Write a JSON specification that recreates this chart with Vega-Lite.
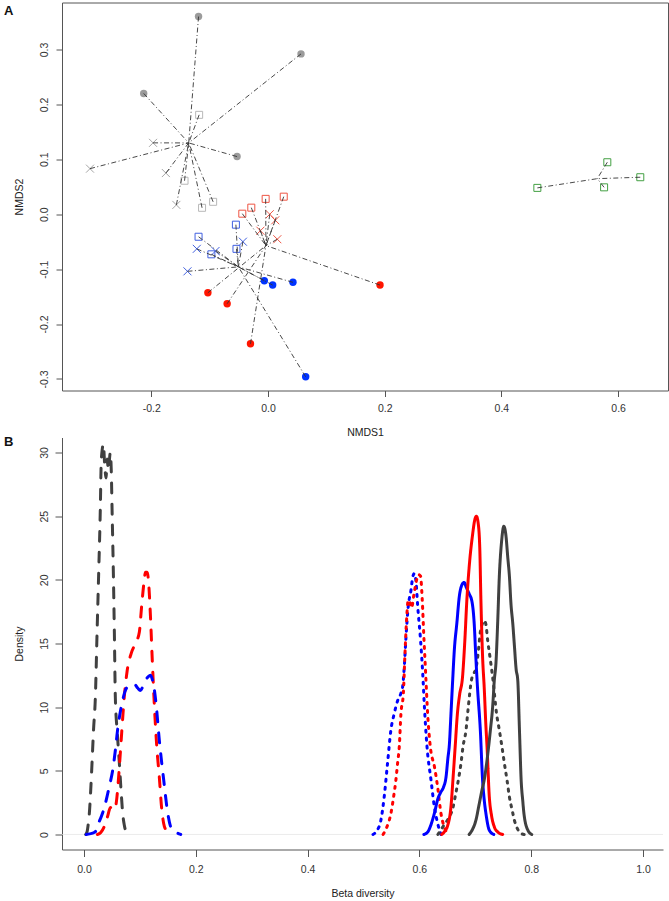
{
  "$schema": "https://vega.github.io/schema/vega-lite/v6.json",
  "background": "white",
  "padding": {"left": 3, "top": 1.5, "right": 0, "bottom": 0},
  "autosize": {"type": "pad"},
  "bounds": "flush",
  "spacing": 47,
  "resolve": {"scale": {"color": "independent", "strokeDash": "independent"}},
  "config": {
    "font": "Liberation Sans",
    "view": {"stroke": null},
    "axis": {
      "grid": false,
      "labelFont": "Liberation Sans",
      "labelFontSize": 10.5,
      "labelColor": "#333333",
      "titleFont": "Liberation Sans",
      "titleFontSize": 10.5,
      "titleFontWeight": "normal",
      "titleColor": "#222222",
      "tickColor": "#555555",
      "domainColor": "#555555",
      "labelFlush": false,
      "labelOverlap": false
    }
  },
  "datasets": {
    "nmds": [
      {"grp": "gray", "kind": "gray_circle", "pch": "circle", "x": -0.119, "y": 0.360},
      {"grp": "gray", "kind": "gray_circle", "pch": "circle", "x": 0.0566, "y": 0.292},
      {"grp": "gray", "kind": "gray_circle", "pch": "circle", "x": -0.213, "y": 0.220},
      {"grp": "gray", "kind": "gray_circle", "pch": "circle", "x": -0.053, "y": 0.105},
      {"grp": "gray", "kind": "gray_square", "pch": "square", "x": -0.118, "y": 0.181},
      {"grp": "gray", "kind": "gray_square", "pch": "square", "x": -0.143, "y": 0.061},
      {"grp": "gray", "kind": "gray_square", "pch": "square", "x": -0.113, "y": 0.0117},
      {"grp": "gray", "kind": "gray_square", "pch": "square", "x": -0.094, "y": 0.0226},
      {"grp": "gray", "kind": "gray_cross", "pch": "cross", "x": -0.197, "y": 0.130},
      {"grp": "gray", "kind": "gray_cross", "pch": "cross", "x": -0.305, "y": 0.083},
      {"grp": "gray", "kind": "gray_cross", "pch": "cross", "x": -0.175, "y": 0.075},
      {"grp": "gray", "kind": "gray_cross", "pch": "cross", "x": -0.157, "y": 0.017},
      {"grp": "red", "kind": "red_circle", "pch": "circle", "x": -0.103, "y": -0.143},
      {"grp": "red", "kind": "red_circle", "pch": "circle", "x": -0.070, "y": -0.163},
      {"grp": "red", "kind": "red_circle", "pch": "circle", "x": -0.030, "y": -0.236},
      {"grp": "red", "kind": "red_circle", "pch": "circle", "x": 0.192, "y": -0.129},
      {"grp": "red", "kind": "red_square", "pch": "square", "x": -0.044, "y": 0.001},
      {"grp": "red", "kind": "red_square", "pch": "square", "x": -0.0286, "y": 0.012},
      {"grp": "red", "kind": "red_square", "pch": "square", "x": -0.004, "y": 0.028},
      {"grp": "red", "kind": "red_square", "pch": "square", "x": 0.027, "y": 0.032},
      {"grp": "red", "kind": "red_cross", "pch": "cross", "x": -0.013, "y": -0.030},
      {"grp": "red", "kind": "red_cross", "pch": "cross", "x": 0.003, "y": 0.000},
      {"grp": "red", "kind": "red_cross", "pch": "cross", "x": 0.0125, "y": -0.011},
      {"grp": "red", "kind": "red_cross", "pch": "cross", "x": 0.016, "y": -0.0455},
      {"grp": "blue", "kind": "blue_circle", "pch": "circle", "x": -0.0063, "y": -0.121},
      {"grp": "blue", "kind": "blue_circle", "pch": "circle", "x": 0.008, "y": -0.129},
      {"grp": "blue", "kind": "blue_circle", "pch": "circle", "x": 0.0428, "y": -0.124},
      {"grp": "blue", "kind": "blue_circle", "pch": "circle", "x": 0.0646, "y": -0.296},
      {"grp": "blue", "kind": "blue_square", "pch": "square", "x": -0.055, "y": -0.019},
      {"grp": "blue", "kind": "blue_square", "pch": "square", "x": -0.119, "y": -0.041},
      {"grp": "blue", "kind": "blue_square", "pch": "square", "x": -0.097, "y": -0.073},
      {"grp": "blue", "kind": "blue_square", "pch": "square", "x": -0.054, "y": -0.063},
      {"grp": "blue", "kind": "blue_cross", "pch": "cross", "x": -0.122, "y": -0.063},
      {"grp": "blue", "kind": "blue_cross", "pch": "cross", "x": -0.090, "y": -0.067},
      {"grp": "blue", "kind": "blue_cross", "pch": "cross", "x": -0.043, "y": -0.050},
      {"grp": "blue", "kind": "blue_cross", "pch": "cross", "x": -0.138, "y": -0.104},
      {"grp": "green", "kind": "green_square", "pch": "square", "x": 0.4616, "y": 0.048},
      {"grp": "green", "kind": "green_square", "pch": "square", "x": 0.5815, "y": 0.0947},
      {"grp": "green", "kind": "green_square", "pch": "square", "x": 0.576, "y": 0.049},
      {"grp": "green", "kind": "green_square", "pch": "square", "x": 0.638, "y": 0.0674}
    ],
    "dens": [
      {"curve": "g_dash", "col": "gray", "lty": "dashed", "x": 0.003, "y": 0},
      {"curve": "g_dash", "col": "gray", "lty": "dashed", "x": 0.0054, "y": 0.2},
      {"curve": "g_dash", "col": "gray", "lty": "dashed", "x": 0.0075, "y": 0.8},
      {"curve": "g_dash", "col": "gray", "lty": "dashed", "x": 0.0095, "y": 1.65},
      {"curve": "g_dash", "col": "gray", "lty": "dashed", "x": 0.012, "y": 3.5},
      {"curve": "g_dash", "col": "gray", "lty": "dashed", "x": 0.0143, "y": 5.6},
      {"curve": "g_dash", "col": "gray", "lty": "dashed", "x": 0.017, "y": 8.2},
      {"curve": "g_dash", "col": "gray", "lty": "dashed", "x": 0.0203, "y": 10.8},
      {"curve": "g_dash", "col": "gray", "lty": "dashed", "x": 0.0233, "y": 15.8},
      {"curve": "g_dash", "col": "gray", "lty": "dashed", "x": 0.0262, "y": 20.5},
      {"curve": "g_dash", "col": "gray", "lty": "dashed", "x": 0.0292, "y": 25.7},
      {"curve": "g_dash", "col": "gray", "lty": "dashed", "x": 0.0306, "y": 29.0},
      {"curve": "g_dash", "col": "gray", "lty": "dashed", "x": 0.0325, "y": 30.2},
      {"curve": "g_dash", "col": "gray", "lty": "dashed", "x": 0.0346, "y": 30.66},
      {"curve": "g_dash", "col": "gray", "lty": "dashed", "x": 0.037, "y": 29.0},
      {"curve": "g_dash", "col": "gray", "lty": "dashed", "x": 0.0394, "y": 28.0},
      {"curve": "g_dash", "col": "gray", "lty": "dashed", "x": 0.0415, "y": 29.5},
      {"curve": "g_dash", "col": "gray", "lty": "dashed", "x": 0.0435, "y": 28.6},
      {"curve": "g_dash", "col": "gray", "lty": "dashed", "x": 0.047, "y": 29.98},
      {"curve": "g_dash", "col": "gray", "lty": "dashed", "x": 0.0488, "y": 28.5},
      {"curve": "g_dash", "col": "gray", "lty": "dashed", "x": 0.0501, "y": 25.7},
      {"curve": "g_dash", "col": "gray", "lty": "dashed", "x": 0.0525, "y": 20.5},
      {"curve": "g_dash", "col": "gray", "lty": "dashed", "x": 0.0543, "y": 15.8},
      {"curve": "g_dash", "col": "gray", "lty": "dashed", "x": 0.056, "y": 10.8},
      {"curve": "g_dash", "col": "gray", "lty": "dashed", "x": 0.0595, "y": 8.0},
      {"curve": "g_dash", "col": "gray", "lty": "dashed", "x": 0.0632, "y": 5.6},
      {"curve": "g_dash", "col": "gray", "lty": "dashed", "x": 0.0665, "y": 3.3},
      {"curve": "g_dash", "col": "gray", "lty": "dashed", "x": 0.0692, "y": 1.65},
      {"curve": "g_dash", "col": "gray", "lty": "dashed", "x": 0.0722, "y": 0.7},
      {"curve": "g_dash", "col": "gray", "lty": "dashed", "x": 0.0751, "y": 0.2},
      {"curve": "g_dash", "col": "gray", "lty": "dashed", "x": 0.078, "y": 0},
      {"curve": "r_dash", "col": "red", "lty": "dashed", "x": 0.024, "y": 0},
      {"curve": "r_dash", "col": "red", "lty": "dashed", "x": 0.030, "y": 0.15},
      {"curve": "r_dash", "col": "red", "lty": "dashed", "x": 0.036, "y": 0.6},
      {"curve": "r_dash", "col": "red", "lty": "dashed", "x": 0.042, "y": 1.4},
      {"curve": "r_dash", "col": "red", "lty": "dashed", "x": 0.047, "y": 2.1},
      {"curve": "r_dash", "col": "red", "lty": "dashed", "x": 0.0513, "y": 2.17},
      {"curve": "r_dash", "col": "red", "lty": "dashed", "x": 0.055, "y": 2.0},
      {"curve": "r_dash", "col": "red", "lty": "dashed", "x": 0.058, "y": 2.6},
      {"curve": "r_dash", "col": "red", "lty": "dashed", "x": 0.061, "y": 4.0},
      {"curve": "r_dash", "col": "red", "lty": "dashed", "x": 0.064, "y": 5.8},
      {"curve": "r_dash", "col": "red", "lty": "dashed", "x": 0.0674, "y": 8.0},
      {"curve": "r_dash", "col": "red", "lty": "dashed", "x": 0.072, "y": 10.8},
      {"curve": "r_dash", "col": "red", "lty": "dashed", "x": 0.077, "y": 12.8},
      {"curve": "r_dash", "col": "red", "lty": "dashed", "x": 0.085, "y": 14.3},
      {"curve": "r_dash", "col": "red", "lty": "dashed", "x": 0.093, "y": 15.1},
      {"curve": "r_dash", "col": "red", "lty": "dashed", "x": 0.099, "y": 15.9},
      {"curve": "r_dash", "col": "red", "lty": "dashed", "x": 0.103, "y": 17.9},
      {"curve": "r_dash", "col": "red", "lty": "dashed", "x": 0.107, "y": 19.7},
      {"curve": "r_dash", "col": "red", "lty": "dashed", "x": 0.110, "y": 20.6},
      {"curve": "r_dash", "col": "red", "lty": "dashed", "x": 0.113, "y": 20.6},
      {"curve": "r_dash", "col": "red", "lty": "dashed", "x": 0.116, "y": 19.5},
      {"curve": "r_dash", "col": "red", "lty": "dashed", "x": 0.119, "y": 17.0},
      {"curve": "r_dash", "col": "red", "lty": "dashed", "x": 0.122, "y": 13.8},
      {"curve": "r_dash", "col": "red", "lty": "dashed", "x": 0.126, "y": 10.0},
      {"curve": "r_dash", "col": "red", "lty": "dashed", "x": 0.130, "y": 7.0},
      {"curve": "r_dash", "col": "red", "lty": "dashed", "x": 0.1347, "y": 4.5},
      {"curve": "r_dash", "col": "red", "lty": "dashed", "x": 0.139, "y": 2.0},
      {"curve": "r_dash", "col": "red", "lty": "dashed", "x": 0.1425, "y": 0.86},
      {"curve": "r_dash", "col": "red", "lty": "dashed", "x": 0.147, "y": 0.3},
      {"curve": "r_dash", "col": "red", "lty": "dashed", "x": 0.153, "y": 0},
      {"curve": "b_dash", "col": "blue", "lty": "dashed", "x": 0.004, "y": 0},
      {"curve": "b_dash", "col": "blue", "lty": "dashed", "x": 0.010, "y": 0.05},
      {"curve": "b_dash", "col": "blue", "lty": "dashed", "x": 0.018, "y": 0.15},
      {"curve": "b_dash", "col": "blue", "lty": "dashed", "x": 0.0215, "y": 0.3},
      {"curve": "b_dash", "col": "blue", "lty": "dashed", "x": 0.026, "y": 0.9},
      {"curve": "b_dash", "col": "blue", "lty": "dashed", "x": 0.030, "y": 1.3},
      {"curve": "b_dash", "col": "blue", "lty": "dashed", "x": 0.0334, "y": 1.7},
      {"curve": "b_dash", "col": "blue", "lty": "dashed", "x": 0.038, "y": 2.4},
      {"curve": "b_dash", "col": "blue", "lty": "dashed", "x": 0.0423, "y": 3.2},
      {"curve": "b_dash", "col": "blue", "lty": "dashed", "x": 0.047, "y": 4.1},
      {"curve": "b_dash", "col": "blue", "lty": "dashed", "x": 0.0513, "y": 5.05},
      {"curve": "b_dash", "col": "blue", "lty": "dashed", "x": 0.056, "y": 6.6},
      {"curve": "b_dash", "col": "blue", "lty": "dashed", "x": 0.060, "y": 8.2},
      {"curve": "b_dash", "col": "blue", "lty": "dashed", "x": 0.064, "y": 9.4},
      {"curve": "b_dash", "col": "blue", "lty": "dashed", "x": 0.069, "y": 10.5},
      {"curve": "b_dash", "col": "blue", "lty": "dashed", "x": 0.073, "y": 11.2},
      {"curve": "b_dash", "col": "blue", "lty": "dashed", "x": 0.078, "y": 11.6},
      {"curve": "b_dash", "col": "blue", "lty": "dashed", "x": 0.084, "y": 11.7},
      {"curve": "b_dash", "col": "blue", "lty": "dashed", "x": 0.090, "y": 11.8},
      {"curve": "b_dash", "col": "blue", "lty": "dashed", "x": 0.096, "y": 11.5},
      {"curve": "b_dash", "col": "blue", "lty": "dashed", "x": 0.1008, "y": 11.3},
      {"curve": "b_dash", "col": "blue", "lty": "dashed", "x": 0.105, "y": 11.6},
      {"curve": "b_dash", "col": "blue", "lty": "dashed", "x": 0.110, "y": 12.1},
      {"curve": "b_dash", "col": "blue", "lty": "dashed", "x": 0.115, "y": 12.4},
      {"curve": "b_dash", "col": "blue", "lty": "dashed", "x": 0.119, "y": 12.5},
      {"curve": "b_dash", "col": "blue", "lty": "dashed", "x": 0.122, "y": 12.2},
      {"curve": "b_dash", "col": "blue", "lty": "dashed", "x": 0.125, "y": 11.6},
      {"curve": "b_dash", "col": "blue", "lty": "dashed", "x": 0.1288, "y": 10.3},
      {"curve": "b_dash", "col": "blue", "lty": "dashed", "x": 0.1347, "y": 7.4},
      {"curve": "b_dash", "col": "blue", "lty": "dashed", "x": 0.1425, "y": 4.3},
      {"curve": "b_dash", "col": "blue", "lty": "dashed", "x": 0.1497, "y": 1.7},
      {"curve": "b_dash", "col": "blue", "lty": "dashed", "x": 0.155, "y": 0.6},
      {"curve": "b_dash", "col": "blue", "lty": "dashed", "x": 0.1586, "y": 0.34},
      {"curve": "b_dash", "col": "blue", "lty": "dashed", "x": 0.1676, "y": 0.1},
      {"curve": "b_dash", "col": "blue", "lty": "dashed", "x": 0.173, "y": 0},
      {"curve": "b_dot", "col": "blue", "lty": "dotted", "x": 0.517, "y": 0},
      {"curve": "b_dot", "col": "blue", "lty": "dotted", "x": 0.524, "y": 0.3},
      {"curve": "b_dot", "col": "blue", "lty": "dotted", "x": 0.531, "y": 1.1},
      {"curve": "b_dot", "col": "blue", "lty": "dotted", "x": 0.537, "y": 2.95},
      {"curve": "b_dot", "col": "blue", "lty": "dotted", "x": 0.543, "y": 5.6},
      {"curve": "b_dot", "col": "blue", "lty": "dotted", "x": 0.549, "y": 8.2},
      {"curve": "b_dot", "col": "blue", "lty": "dotted", "x": 0.555, "y": 9.5},
      {"curve": "b_dot", "col": "blue", "lty": "dotted", "x": 0.561, "y": 10.5},
      {"curve": "b_dot", "col": "blue", "lty": "dotted", "x": 0.567, "y": 11.1},
      {"curve": "b_dot", "col": "blue", "lty": "dotted", "x": 0.570, "y": 11.6},
      {"curve": "b_dot", "col": "blue", "lty": "dotted", "x": 0.573, "y": 13.2},
      {"curve": "b_dot", "col": "blue", "lty": "dotted", "x": 0.576, "y": 15.5},
      {"curve": "b_dot", "col": "blue", "lty": "dotted", "x": 0.580, "y": 17.9},
      {"curve": "b_dot", "col": "blue", "lty": "dotted", "x": 0.585, "y": 19.2},
      {"curve": "b_dot", "col": "blue", "lty": "dotted", "x": 0.588, "y": 20.2},
      {"curve": "b_dot", "col": "blue", "lty": "dotted", "x": 0.591, "y": 20.5},
      {"curve": "b_dot", "col": "blue", "lty": "dotted", "x": 0.594, "y": 19.8},
      {"curve": "b_dot", "col": "blue", "lty": "dotted", "x": 0.597, "y": 17.9},
      {"curve": "b_dot", "col": "blue", "lty": "dotted", "x": 0.602, "y": 15.3},
      {"curve": "b_dot", "col": "blue", "lty": "dotted", "x": 0.606, "y": 12.6},
      {"curve": "b_dot", "col": "blue", "lty": "dotted", "x": 0.609, "y": 10.0},
      {"curve": "b_dot", "col": "blue", "lty": "dotted", "x": 0.6136, "y": 6.9},
      {"curve": "b_dot", "col": "blue", "lty": "dotted", "x": 0.6207, "y": 4.3},
      {"curve": "b_dot", "col": "blue", "lty": "dotted", "x": 0.6267, "y": 2.2},
      {"curve": "b_dot", "col": "blue", "lty": "dotted", "x": 0.6327, "y": 0.86},
      {"curve": "b_dot", "col": "blue", "lty": "dotted", "x": 0.6386, "y": 0},
      {"curve": "r_dot", "col": "red", "lty": "dotted", "x": 0.535, "y": 0},
      {"curve": "r_dot", "col": "red", "lty": "dotted", "x": 0.541, "y": 0.5},
      {"curve": "r_dot", "col": "red", "lty": "dotted", "x": 0.549, "y": 1.65},
      {"curve": "r_dot", "col": "red", "lty": "dotted", "x": 0.554, "y": 3.0},
      {"curve": "r_dot", "col": "red", "lty": "dotted", "x": 0.558, "y": 4.3},
      {"curve": "r_dot", "col": "red", "lty": "dotted", "x": 0.561, "y": 5.6},
      {"curve": "r_dot", "col": "red", "lty": "dotted", "x": 0.564, "y": 6.9},
      {"curve": "r_dot", "col": "red", "lty": "dotted", "x": 0.567, "y": 9.5},
      {"curve": "r_dot", "col": "red", "lty": "dotted", "x": 0.5713, "y": 11.1},
      {"curve": "r_dot", "col": "red", "lty": "dotted", "x": 0.574, "y": 14.0},
      {"curve": "r_dot", "col": "red", "lty": "dotted", "x": 0.577, "y": 16.8},
      {"curve": "r_dot", "col": "red", "lty": "dotted", "x": 0.580, "y": 18.4},
      {"curve": "r_dot", "col": "red", "lty": "dotted", "x": 0.583, "y": 18.2},
      {"curve": "r_dot", "col": "red", "lty": "dotted", "x": 0.586, "y": 17.8},
      {"curve": "r_dot", "col": "red", "lty": "dotted", "x": 0.590, "y": 18.8},
      {"curve": "r_dot", "col": "red", "lty": "dotted", "x": 0.595, "y": 20.0},
      {"curve": "r_dot", "col": "red", "lty": "dotted", "x": 0.599, "y": 20.4},
      {"curve": "r_dot", "col": "red", "lty": "dotted", "x": 0.602, "y": 20.3},
      {"curve": "r_dot", "col": "red", "lty": "dotted", "x": 0.605, "y": 18.5},
      {"curve": "r_dot", "col": "red", "lty": "dotted", "x": 0.608, "y": 15.5},
      {"curve": "r_dot", "col": "red", "lty": "dotted", "x": 0.611, "y": 12.8},
      {"curve": "r_dot", "col": "red", "lty": "dotted", "x": 0.6147, "y": 9.5},
      {"curve": "r_dot", "col": "red", "lty": "dotted", "x": 0.6195, "y": 6.9},
      {"curve": "r_dot", "col": "red", "lty": "dotted", "x": 0.627, "y": 5.3},
      {"curve": "r_dot", "col": "red", "lty": "dotted", "x": 0.6327, "y": 3.7},
      {"curve": "r_dot", "col": "red", "lty": "dotted", "x": 0.6386, "y": 1.65},
      {"curve": "r_dot", "col": "red", "lty": "dotted", "x": 0.6446, "y": 0.57},
      {"curve": "r_dot", "col": "red", "lty": "dotted", "x": 0.6535, "y": 0},
      {"curve": "g_dot", "col": "gray", "lty": "dotted", "x": 0.633, "y": 0},
      {"curve": "g_dot", "col": "gray", "lty": "dotted", "x": 0.642, "y": 0.6},
      {"curve": "g_dot", "col": "gray", "lty": "dotted", "x": 0.6535, "y": 1.4},
      {"curve": "g_dot", "col": "gray", "lty": "dotted", "x": 0.6594, "y": 2.0},
      {"curve": "g_dot", "col": "gray", "lty": "dotted", "x": 0.665, "y": 3.2},
      {"curve": "g_dot", "col": "gray", "lty": "dotted", "x": 0.6744, "y": 5.6},
      {"curve": "g_dot", "col": "gray", "lty": "dotted", "x": 0.678, "y": 6.9},
      {"curve": "g_dot", "col": "gray", "lty": "dotted", "x": 0.6834, "y": 8.2},
      {"curve": "g_dot", "col": "gray", "lty": "dotted", "x": 0.687, "y": 9.8},
      {"curve": "g_dot", "col": "gray", "lty": "dotted", "x": 0.693, "y": 12.1},
      {"curve": "g_dot", "col": "gray", "lty": "dotted", "x": 0.698, "y": 12.7},
      {"curve": "g_dot", "col": "gray", "lty": "dotted", "x": 0.701, "y": 13.0},
      {"curve": "g_dot", "col": "gray", "lty": "dotted", "x": 0.705, "y": 14.2},
      {"curve": "g_dot", "col": "gray", "lty": "dotted", "x": 0.709, "y": 15.9},
      {"curve": "g_dot", "col": "gray", "lty": "dotted", "x": 0.713, "y": 16.6},
      {"curve": "g_dot", "col": "gray", "lty": "dotted", "x": 0.716, "y": 16.8},
      {"curve": "g_dot", "col": "gray", "lty": "dotted", "x": 0.719, "y": 16.5},
      {"curve": "g_dot", "col": "gray", "lty": "dotted", "x": 0.722, "y": 15.3},
      {"curve": "g_dot", "col": "gray", "lty": "dotted", "x": 0.727, "y": 13.7},
      {"curve": "g_dot", "col": "gray", "lty": "dotted", "x": 0.732, "y": 12.0},
      {"curve": "g_dot", "col": "gray", "lty": "dotted", "x": 0.738, "y": 9.5},
      {"curve": "g_dot", "col": "gray", "lty": "dotted", "x": 0.743, "y": 8.2},
      {"curve": "g_dot", "col": "gray", "lty": "dotted", "x": 0.748, "y": 6.8},
      {"curve": "g_dot", "col": "gray", "lty": "dotted", "x": 0.752, "y": 5.6},
      {"curve": "g_dot", "col": "gray", "lty": "dotted", "x": 0.757, "y": 4.2},
      {"curve": "g_dot", "col": "gray", "lty": "dotted", "x": 0.761, "y": 2.95},
      {"curve": "g_dot", "col": "gray", "lty": "dotted", "x": 0.766, "y": 1.9},
      {"curve": "g_dot", "col": "gray", "lty": "dotted", "x": 0.770, "y": 1.1},
      {"curve": "g_dot", "col": "gray", "lty": "dotted", "x": 0.776, "y": 0.4},
      {"curve": "g_dot", "col": "gray", "lty": "dotted", "x": 0.782, "y": 0.08},
      {"curve": "g_dot", "col": "gray", "lty": "dotted", "x": 0.788, "y": 0},
      {"curve": "b_solid", "col": "blue", "lty": "solid", "x": 0.608, "y": 0},
      {"curve": "b_solid", "col": "blue", "lty": "solid", "x": 0.615, "y": 0.2},
      {"curve": "b_solid", "col": "blue", "lty": "solid", "x": 0.621, "y": 0.8},
      {"curve": "b_solid", "col": "blue", "lty": "solid", "x": 0.627, "y": 1.7},
      {"curve": "b_solid", "col": "blue", "lty": "solid", "x": 0.633, "y": 2.8},
      {"curve": "b_solid", "col": "blue", "lty": "solid", "x": 0.638, "y": 3.3},
      {"curve": "b_solid", "col": "blue", "lty": "solid", "x": 0.643, "y": 3.7},
      {"curve": "b_solid", "col": "blue", "lty": "solid", "x": 0.6476, "y": 4.5},
      {"curve": "b_solid", "col": "blue", "lty": "solid", "x": 0.651, "y": 6.0},
      {"curve": "b_solid", "col": "blue", "lty": "solid", "x": 0.6535, "y": 7.0},
      {"curve": "b_solid", "col": "blue", "lty": "solid", "x": 0.6565, "y": 9.5},
      {"curve": "b_solid", "col": "blue", "lty": "solid", "x": 0.6594, "y": 12.0},
      {"curve": "b_solid", "col": "blue", "lty": "solid", "x": 0.6625, "y": 14.5},
      {"curve": "b_solid", "col": "blue", "lty": "solid", "x": 0.667, "y": 16.6},
      {"curve": "b_solid", "col": "blue", "lty": "solid", "x": 0.6714, "y": 18.7},
      {"curve": "b_solid", "col": "blue", "lty": "solid", "x": 0.676, "y": 19.6},
      {"curve": "b_solid", "col": "blue", "lty": "solid", "x": 0.680, "y": 19.8},
      {"curve": "b_solid", "col": "blue", "lty": "solid", "x": 0.684, "y": 19.4},
      {"curve": "b_solid", "col": "blue", "lty": "solid", "x": 0.689, "y": 18.9},
      {"curve": "b_solid", "col": "blue", "lty": "solid", "x": 0.694, "y": 18.3},
      {"curve": "b_solid", "col": "blue", "lty": "solid", "x": 0.698, "y": 16.6},
      {"curve": "b_solid", "col": "blue", "lty": "solid", "x": 0.701, "y": 13.9},
      {"curve": "b_solid", "col": "blue", "lty": "solid", "x": 0.704, "y": 11.5},
      {"curve": "b_solid", "col": "blue", "lty": "solid", "x": 0.709, "y": 8.2},
      {"curve": "b_solid", "col": "blue", "lty": "solid", "x": 0.713, "y": 4.3},
      {"curve": "b_solid", "col": "blue", "lty": "solid", "x": 0.716, "y": 2.7},
      {"curve": "b_solid", "col": "blue", "lty": "solid", "x": 0.719, "y": 1.65},
      {"curve": "b_solid", "col": "blue", "lty": "solid", "x": 0.725, "y": 0.34},
      {"curve": "b_solid", "col": "blue", "lty": "solid", "x": 0.733, "y": 0},
      {"curve": "r_solid", "col": "red", "lty": "solid", "x": 0.640, "y": 0},
      {"curve": "r_solid", "col": "red", "lty": "solid", "x": 0.646, "y": 0.3},
      {"curve": "r_solid", "col": "red", "lty": "solid", "x": 0.6506, "y": 0.7},
      {"curve": "r_solid", "col": "red", "lty": "solid", "x": 0.6565, "y": 2.2},
      {"curve": "r_solid", "col": "red", "lty": "solid", "x": 0.660, "y": 4.3},
      {"curve": "r_solid", "col": "red", "lty": "solid", "x": 0.664, "y": 6.9},
      {"curve": "r_solid", "col": "red", "lty": "solid", "x": 0.668, "y": 9.5},
      {"curve": "r_solid", "col": "red", "lty": "solid", "x": 0.672, "y": 11.0},
      {"curve": "r_solid", "col": "red", "lty": "solid", "x": 0.677, "y": 12.3},
      {"curve": "r_solid", "col": "red", "lty": "solid", "x": 0.681, "y": 15.0},
      {"curve": "r_solid", "col": "red", "lty": "solid", "x": 0.685, "y": 18.5},
      {"curve": "r_solid", "col": "red", "lty": "solid", "x": 0.690, "y": 21.5},
      {"curve": "r_solid", "col": "red", "lty": "solid", "x": 0.695, "y": 23.5},
      {"curve": "r_solid", "col": "red", "lty": "solid", "x": 0.699, "y": 24.7},
      {"curve": "r_solid", "col": "red", "lty": "solid", "x": 0.702, "y": 25.0},
      {"curve": "r_solid", "col": "red", "lty": "solid", "x": 0.705, "y": 24.5},
      {"curve": "r_solid", "col": "red", "lty": "solid", "x": 0.708, "y": 22.5},
      {"curve": "r_solid", "col": "red", "lty": "solid", "x": 0.710, "y": 18.5},
      {"curve": "r_solid", "col": "red", "lty": "solid", "x": 0.713, "y": 14.0},
      {"curve": "r_solid", "col": "red", "lty": "solid", "x": 0.716, "y": 11.5},
      {"curve": "r_solid", "col": "red", "lty": "solid", "x": 0.719, "y": 8.5},
      {"curve": "r_solid", "col": "red", "lty": "solid", "x": 0.721, "y": 6.9},
      {"curve": "r_solid", "col": "red", "lty": "solid", "x": 0.725, "y": 3.0},
      {"curve": "r_solid", "col": "red", "lty": "solid", "x": 0.729, "y": 1.5},
      {"curve": "r_solid", "col": "red", "lty": "solid", "x": 0.734, "y": 0.6},
      {"curve": "r_solid", "col": "red", "lty": "solid", "x": 0.740, "y": 0.2},
      {"curve": "r_solid", "col": "red", "lty": "solid", "x": 0.749, "y": 0},
      {"curve": "g_solid", "col": "gray", "lty": "solid", "x": 0.689, "y": 0},
      {"curve": "g_solid", "col": "gray", "lty": "solid", "x": 0.695, "y": 0.4},
      {"curve": "g_solid", "col": "gray", "lty": "solid", "x": 0.701, "y": 1.1},
      {"curve": "g_solid", "col": "gray", "lty": "solid", "x": 0.707, "y": 2.4},
      {"curve": "g_solid", "col": "gray", "lty": "solid", "x": 0.712, "y": 3.5},
      {"curve": "g_solid", "col": "gray", "lty": "solid", "x": 0.716, "y": 4.3},
      {"curve": "g_solid", "col": "gray", "lty": "solid", "x": 0.722, "y": 6.2},
      {"curve": "g_solid", "col": "gray", "lty": "solid", "x": 0.727, "y": 8.2},
      {"curve": "g_solid", "col": "gray", "lty": "solid", "x": 0.731, "y": 10.0},
      {"curve": "g_solid", "col": "gray", "lty": "solid", "x": 0.734, "y": 12.1},
      {"curve": "g_solid", "col": "gray", "lty": "solid", "x": 0.737, "y": 13.5},
      {"curve": "g_solid", "col": "gray", "lty": "solid", "x": 0.740, "y": 16.6},
      {"curve": "g_solid", "col": "gray", "lty": "solid", "x": 0.743, "y": 20.3},
      {"curve": "g_solid", "col": "gray", "lty": "solid", "x": 0.747, "y": 23.0},
      {"curve": "g_solid", "col": "gray", "lty": "solid", "x": 0.751, "y": 24.2},
      {"curve": "g_solid", "col": "gray", "lty": "solid", "x": 0.755, "y": 23.4},
      {"curve": "g_solid", "col": "gray", "lty": "solid", "x": 0.758, "y": 21.8},
      {"curve": "g_solid", "col": "gray", "lty": "solid", "x": 0.761, "y": 20.3},
      {"curve": "g_solid", "col": "gray", "lty": "solid", "x": 0.764, "y": 18.0},
      {"curve": "g_solid", "col": "gray", "lty": "solid", "x": 0.767, "y": 16.6},
      {"curve": "g_solid", "col": "gray", "lty": "solid", "x": 0.770, "y": 14.8},
      {"curve": "g_solid", "col": "gray", "lty": "solid", "x": 0.773, "y": 13.0},
      {"curve": "g_solid", "col": "gray", "lty": "solid", "x": 0.776, "y": 12.1},
      {"curve": "g_solid", "col": "gray", "lty": "solid", "x": 0.779, "y": 8.2},
      {"curve": "g_solid", "col": "gray", "lty": "solid", "x": 0.782, "y": 4.3},
      {"curve": "g_solid", "col": "gray", "lty": "solid", "x": 0.785, "y": 2.6},
      {"curve": "g_solid", "col": "gray", "lty": "solid", "x": 0.787, "y": 1.65},
      {"curve": "g_solid", "col": "gray", "lty": "solid", "x": 0.794, "y": 0.34},
      {"curve": "g_solid", "col": "gray", "lty": "solid", "x": 0.801, "y": 0}
    ]
  },
  "vconcat": [
    {
      "width": 606,
      "height": 388,
      "view": {"stroke": "#555555", "strokeWidth": 1},
      "title": {"text": "A", "anchor": "start", "frame": "group", "orient": "top", "dx": -58, "dy": 25, "offset": 0, "baseline": "alphabetic", "fontSize": 13, "fontWeight": "bold", "font": "Liberation Sans", "color": "#111111"},
      "data": {"name": "nmds"},
      "encoding": {
        "x": {"field": "x", "type": "quantitative",
          "scale": {"domain": [-0.353, 0.6855], "nice": false, "zero": false},
          "axis": {"values": [-0.2, 0, 0.2, 0.4, 0.6], "labelExpr": "replace(format(datum.value, '.1f'), '\u2212', '-')", "title": "NMDS1", "domain": false, "tickSize": 6, "labelPadding": 7, "titleY": 45, "titleBaseline": "alphabetic"}},
        "y": {"field": "y", "type": "quantitative",
          "scale": {"domain": [-0.321, 0.3856], "nice": false, "zero": false},
          "axis": {"values": [-0.3, -0.2, -0.1, 0, 0.1, 0.2, 0.3], "labelExpr": "replace(format(datum.value, '.1f'), '\u2212', '-')", "title": "NMDS2", "domain": false, "tickSize": 6, "labelAngle": -90, "labelAlign": "center", "labelBaseline": "alphabetic", "labelPadding": 8.5, "titleX": -39.5, "titleY": 194, "titleAngle": -90, "titleAlign": "center", "titleBaseline": "alphabetic"}},
        "color": {"field": "kind", "type": "nominal", "legend": null,
          "scale": {"domain": ["gray_circle", "gray_square", "gray_cross", "red_circle", "red_square", "red_cross", "blue_circle", "blue_square", "blue_cross", "green_square"],
                    "range": ["#9b9b9b", "#b8b8b8", "#a6a6a6", "#ff1500", "#ee5544", "#ee5544", "#0033ff", "#4060e0", "#4060e0", "#44a044"]}}
      },
      "layer": [
        {
          "transform": [{"filter": "datum.pch === 'circle'"}],
          "mark": {"type": "point", "filled": true, "shape": "circle", "size": 55, "opacity": 1}
        },
        {
          "transform": [{"filter": "datum.pch === 'square'"}],
          "mark": {"type": "point", "filled": false, "shape": "square", "size": 49, "strokeWidth": 1, "opacity": 1}
        },
        {
          "transform": [{"filter": "datum.pch === 'cross'"}],
          "mark": {"type": "point", "filled": false, "shape": "M-1,-1L1,1M-1,1L1,-1", "size": 64, "strokeWidth": 1, "opacity": 1}
        },
        {
          "transform": [{"joinaggregate": [{"op": "mean", "field": "x", "as": "cx"}, {"op": "mean", "field": "y", "as": "cy"}], "groupby": ["grp"]}],
          "mark": {"type": "rule", "strokeDash": [5, 2.5, 1, 2.5], "color": "#333333", "strokeWidth": 0.9},
          "encoding": {
            "x2": {"field": "cx"},
            "y2": {"field": "cy"},
            "color": {"value": "#333333"}
          }
        }
      ]
    },
    {
      "width": 601,
      "height": 412,
      "view": {"stroke": null},
      "title": {"text": "B", "anchor": "start", "frame": "group", "orient": "top", "dx": -58, "dy": 21, "offset": 0, "baseline": "alphabetic", "fontSize": 13, "fontWeight": "bold", "font": "Liberation Sans", "color": "#111111"},
      "layer": [
        {
          "data": {"values": [{}]},
          "mark": {"type": "rule", "color": "#e4e4e4", "strokeWidth": 0.7},
          "encoding": {
            "y": {"datum": 0, "type": "quantitative", "scale": {"domain": [-1.18, 31.18], "nice": false, "zero": false}}
          }
        },
        {
          "data": {"name": "dens"},
          "mark": {"type": "line", "interpolate": "monotone", "strokeWidth": 3, "strokeCap": "round", "strokeJoin": "round"},
          "encoding": {
            "x": {"field": "x", "type": "quantitative",
              "scale": {"domain": [-0.0394, 1.0358], "nice": false, "zero": false},
              "axis": {"values": [0, 0.2, 0.4, 0.6, 0.8, 1.0], "labelExpr": "format(datum.value, '.1f')", "title": "Beta diversity", "domain": true, "tickSize": 7, "labelPadding": 7.5, "titleY": 47.4, "titleBaseline": "alphabetic"}},
            "y": {"field": "y", "type": "quantitative",
              "scale": {"domain": [-1.18, 31.18], "nice": false, "zero": false},
              "axis": {"values": [0, 5, 10, 15, 20, 25, 30], "format": "d", "title": "Density", "domain": true, "tickSize": 7, "labelAngle": -90, "labelAlign": "center", "labelBaseline": "alphabetic", "labelPadding": 7.5, "titleX": -39.5, "titleY": 206, "titleAngle": -90, "titleAlign": "center", "titleBaseline": "alphabetic"}},
            "color": {"field": "col", "type": "nominal", "legend": null,
              "scale": {"domain": ["gray", "red", "blue"], "range": ["#404040", "#ff0000", "#0000ff"]}},
            "strokeDash": {"field": "lty", "type": "nominal", "legend": null,
              "scale": {"domain": ["dashed", "dotted", "solid"], "range": [[10, 11], [2, 6], [1, 0]]}},
            "detail": {"field": "curve"}
          }
        }
      ]
    }
  ]
}
